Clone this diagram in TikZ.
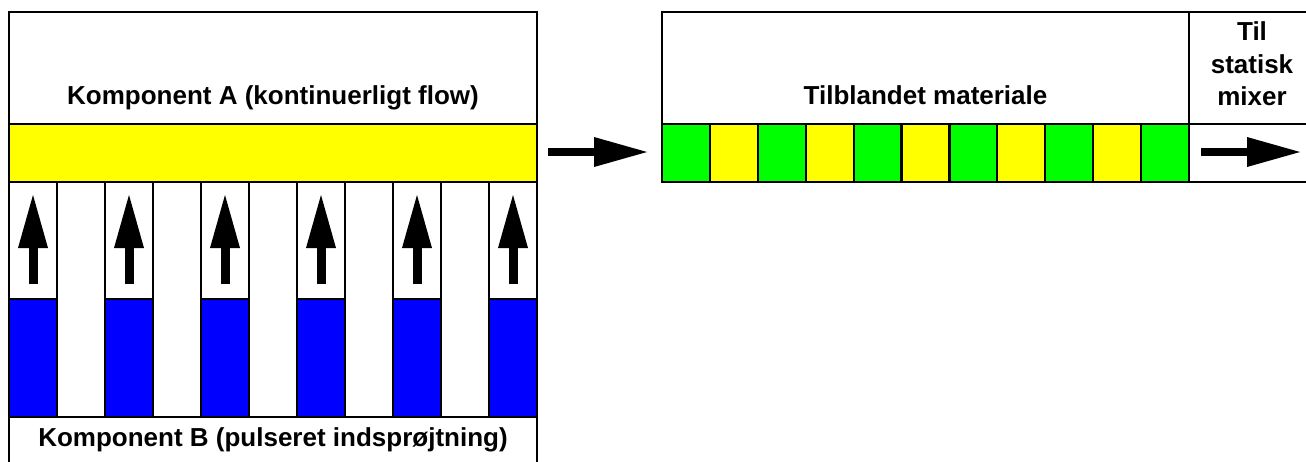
\documentclass[tikz,border=0pt]{standalone}
\usepackage{fontspec}
\setmainfont{Liberation Sans}
\usetikzlibrary{arrows.meta}
\definecolor{cyel}{RGB}{255,255,0}
\definecolor{cgrn}{RGB}{0,255,0}
\definecolor{cblu}{RGB}{0,0,255}
\tikzset{
  border/.style={line width=2.2pt, line cap=rect},
  lbl/.style={font=\bfseries\fontsize{26}{32.5}\selectfont, inner sep=0pt},
  vbigarrow/.style={line width=9pt, -{Triangle[width=30pt,length=53pt,line width=0pt]}},
  hbigarrow/.style={line width=8pt, -{Triangle[width=30pt,length=53pt,line width=0pt]}}
}
\begin{document}
\begin{tikzpicture}[x=1pt,y=-1pt]
\useasboundingbox (0,0) rectangle (1306,461);
% ---- left box fills
\fill[cyel] (9,124) rectangle (537,182);
\foreach \i in {0,2,...,10} {
  \fill[cblu] ({9+48*\i},299) rectangle ({57+48*\i},417);
}
% ---- left box lines
\draw[border] (9,475) -- (9,12) -- (537,12) -- (537,475);
\draw[border] (9,124) -- (537,124);
\draw[border] (9,182) -- (537,182);
\draw[border] (9,417) -- (537,417);
\foreach \i in {1,...,10} {
  \draw[border] ({9+48*\i},182) -- ({9+48*\i},417);
}
\foreach \i in {0,2,...,10} {
  \draw[border] ({9+48*\i},299) -- ({57+48*\i},299);
}
% ---- vertical arrows
\foreach \i in {0,2,...,10} {
  \coordinate (vs\i) at ({33+48*\i},284);
  \coordinate (ve\i) at ({33+48*\i},195);
  \draw[vbigarrow] (vs\i) -- (ve\i);
}
% ---- right box fills
\foreach \i in {0,...,10} {
  \pgfmathsetmacro{\xa}{662+47.909*\i}
  \pgfmathsetmacro{\xb}{662+47.909*(\i+1)}
  \ifodd\i
    \fill[cyel] (\xa,124) rectangle (\xb,182);
  \else
    \fill[cgrn] (\xa,124) rectangle (\xb,182);
  \fi
}
% ---- right box lines
\draw[border] (1330,12) -- (662,12) -- (662,182) -- (1330,182);
\draw[border] (662,124) -- (1330,124);
\draw[border] (1189,12) -- (1189,182);
\foreach \i in {1,...,10} {
  \draw[border] ({662+47.909*\i},124) -- ({662+47.909*\i},182);
}
% ---- horizontal arrows
\coordinate (h1s) at (548,152);
\coordinate (h1e) at (647,152);
\draw[hbigarrow] (h1s) -- (h1e);
\coordinate (h2s) at (1201,152);
\coordinate (h2e) at (1300,152);
\draw[hbigarrow] (h2s) -- (h2e);
% ---- texts
\node[lbl, anchor=base] (ka) at (273,104) {Komponent A (kontinuerligt flow)};
\node[lbl, anchor=base] (kb) at (273,446) {Komponent B (pulseret indsprøjtning)};
\node[lbl, anchor=base] (tm) at (925.5,104) {Tilblandet materiale};
\node[lbl, anchor=north, align=center] (ts) at (1252,21.5) {Til\\statisk\\mixer};
\end{tikzpicture}
\end{document}
